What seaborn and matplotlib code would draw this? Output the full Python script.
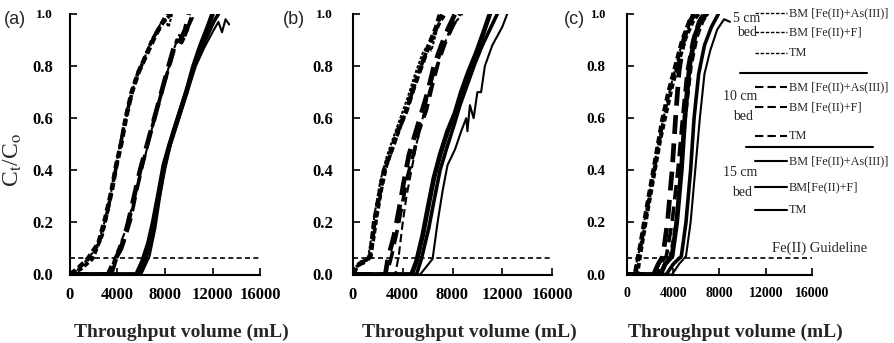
import numpy as np
import pandas as pd
import matplotlib
matplotlib.use("Agg")
import matplotlib.pyplot as plt
import seaborn as sns
from matplotlib.lines import Line2D

# ---------------- data (throughput volume mL, Ct/Co) ----------------
# panel (a)
a5_as_x = [0, 600, 1500, 2400, 3000, 3500, 3900, 4300, 4700, 5200, 5800, 6500, 7200, 8200]
a5_as_y = [0, 0.02, 0.06, 0.12, 0.22, 0.32, 0.42, 0.50, 0.60, 0.70, 0.78, 0.85, 0.92, 1.0]
a5_f_x = [0, 900, 1900, 2700, 3200, 3700, 4100, 4500, 5000, 5600, 6200, 6900, 7700, 8500]
a5_f_y = [0, 0.02, 0.06, 0.15, 0.25, 0.37, 0.46, 0.56, 0.66, 0.76, 0.82, 0.90, 0.96, 1.0]
a5_tm_x = [0, 400, 1300, 2200, 2900, 3400, 3800, 4300, 4800, 5400, 6000, 6700, 7600, 8000, 8300, 8600]
a5_tm_y = [0, 0.01, 0.05, 0.10, 0.20, 0.30, 0.40, 0.52, 0.62, 0.73, 0.80, 0.88, 0.96, 0.98, 0.95, 1.0]
a10_as_x = [0, 3200, 3700, 4300, 4900, 5400, 5900, 6500, 7100, 7700, 8300, 8800, 9300, 9700, 10000]
a10_as_y = [0, 0, 0.05, 0.10, 0.20, 0.30, 0.40, 0.50, 0.60, 0.70, 0.80, 0.88, 0.90, 0.94, 1.0]
a10_f_x = [0, 3500, 3900, 4500, 5100, 5600, 6100, 6700, 7300, 7900, 8500, 9000, 9400, 9800, 10300]
a10_f_y = [0, 0, 0.06, 0.12, 0.21, 0.32, 0.42, 0.53, 0.63, 0.73, 0.82, 0.90, 0.89, 0.93, 1.0]
a10_tm_x = [0, 3300, 3800, 4600, 5300, 5800, 6300, 6900, 7500, 8100, 8700, 9200, 9600, 10100, 10500]
a10_tm_y = [0, 0, 0.07, 0.16, 0.27, 0.37, 0.45, 0.56, 0.66, 0.76, 0.86, 0.92, 0.90, 0.96, 1.0]
a15_as_x = [0, 5600, 6100, 6600, 7000, 7500, 7900, 8400, 9100, 9800, 10400, 11000, 11600, 12000]
a15_as_y = [0, 0, 0.05, 0.12, 0.20, 0.32, 0.42, 0.50, 0.60, 0.70, 0.80, 0.88, 0.95, 1.0]
a15_f_x = [0, 5800, 6400, 6900, 7300, 7700, 8100, 8700, 9400, 10100, 10700, 11400, 12100, 12500]
a15_f_y = [0, 0, 0.06, 0.15, 0.25, 0.35, 0.45, 0.55, 0.65, 0.75, 0.83, 0.90, 0.97, 1.0]
a15_tm_x = [0, 6000, 6700, 7200, 7600, 8000, 8500, 9200, 9900, 10600, 11300, 12000, 12500, 12800, 13100, 13400]
a15_tm_y = [0, 0, 0.07, 0.18, 0.30, 0.40, 0.50, 0.60, 0.70, 0.80, 0.87, 0.93, 0.97, 0.93, 0.98, 0.96]

# panel (b)
b5_as_x = [0, 200, 500, 1000, 1400, 1700, 2100, 2500, 3100, 3600, 4300, 4900, 5500, 6100, 6700, 7000]
b5_as_y = [0, 0.02, 0.04, 0.05, 0.07, 0.20, 0.30, 0.40, 0.48, 0.55, 0.63, 0.72, 0.80, 0.88, 0.95, 1.0]
b5_f_x = [0, 300, 800, 1300, 1600, 1900, 2300, 2700, 3300, 3900, 4500, 5100, 5700, 6300, 7000, 7400]
b5_f_y = [0, 0.03, 0.05, 0.06, 0.12, 0.22, 0.33, 0.42, 0.50, 0.58, 0.66, 0.75, 0.83, 0.90, 0.97, 1.0]
b5_tm_x = [0, 150, 600, 1200, 1500, 1800, 2200, 2700, 3200, 3800, 4400, 5000, 5600, 6000, 6300, 6700, 7100]
b5_tm_y = [0, 0.01, 0.05, 0.06, 0.15, 0.25, 0.36, 0.45, 0.52, 0.60, 0.68, 0.77, 0.85, 0.88, 0.86, 0.93, 1.0]
b10_as_x = [0, 2600, 2800, 3300, 3700, 4100, 4500, 5000, 5500, 6000, 6500, 7100, 7700, 8200]
b10_as_y = [0, 0, 0.06, 0.15, 0.25, 0.36, 0.46, 0.54, 0.62, 0.70, 0.80, 0.88, 0.95, 1.0]
b10_f_x = [0, 2700, 3100, 3600, 4000, 4400, 4800, 5300, 5900, 6400, 6900, 7500, 8100, 8600]
b10_f_y = [0, 0, 0.07, 0.18, 0.28, 0.38, 0.45, 0.55, 0.63, 0.73, 0.82, 0.90, 0.96, 1.0]
b10_tm_x = [0, 3400, 3700, 4000, 4300, 4700, 5100, 5600, 6100, 6700, 7300, 7900, 8800]
b10_tm_y = [0, 0, 0.08, 0.20, 0.30, 0.40, 0.50, 0.60, 0.70, 0.80, 0.88, 0.95, 1.0]
b15_as_x = [0, 4700, 5100, 5600, 6000, 6500, 7000, 7600, 8200, 8700, 9300, 9900, 10500, 11000]
b15_as_y = [0, 0, 0.05, 0.15, 0.25, 0.37, 0.46, 0.55, 0.62, 0.70, 0.78, 0.85, 0.93, 1.0]
b15_f_x = [0, 5100, 5500, 6100, 6500, 7000, 7500, 8100, 8600, 9200, 9800, 10400, 11100, 11600]
b15_f_y = [0, 0, 0.06, 0.18, 0.28, 0.40, 0.48, 0.57, 0.65, 0.73, 0.81, 0.88, 0.95, 1.0]
b15_tm_x = [0, 5400, 6400, 6800, 7200, 7600, 8200, 8700, 9100, 9200, 9400, 9700, 10000, 10300, 10600, 11200, 12000, 12400]
b15_tm_y = [0, 0, 0.06, 0.20, 0.32, 0.42, 0.48, 0.55, 0.60, 0.55, 0.65, 0.60, 0.70, 0.70, 0.80, 0.88, 0.95, 1.0]

# panel (c)
c5_as_x = [0, 700, 900, 1200, 1500, 1900, 2300, 2700, 3100, 3600, 4200, 4800, 5400, 5800]
c5_as_y = [0, 0, 0.05, 0.12, 0.20, 0.30, 0.40, 0.50, 0.60, 0.70, 0.80, 0.90, 0.97, 1.0]
c5_f_x = [0, 900, 1100, 1400, 1700, 2100, 2500, 2900, 3400, 3900, 4500, 5100, 5700, 6200]
c5_f_y = [0, 0, 0.06, 0.14, 0.22, 0.32, 0.42, 0.52, 0.62, 0.72, 0.82, 0.91, 0.97, 1.0]
c5_tm_x = [0, 600, 800, 1100, 1400, 1800, 2200, 2600, 3000, 3500, 4100, 4700, 5300, 5600]
c5_tm_y = [0, 0, 0.04, 0.10, 0.18, 0.28, 0.38, 0.48, 0.57, 0.67, 0.78, 0.88, 0.95, 1.0]
c10_as_x = [0, 2300, 2700, 3100, 3500, 3900, 4200, 4500, 4900, 5400, 5900]
c10_as_y = [0, 0, 0.04, 0.07, 0.20, 0.40, 0.60, 0.78, 0.90, 0.97, 1.0]
c10_f_x = [0, 2600, 3000, 3400, 3900, 4400, 4800, 5200, 5700, 6200, 6600]
c10_f_y = [0, 0, 0.05, 0.07, 0.20, 0.40, 0.60, 0.78, 0.90, 0.97, 1.0]
c10_tm_x = [0, 2800, 3300, 3700, 4200, 4700, 5100, 5600, 6100, 6600, 7000]
c10_tm_y = [0, 0, 0.05, 0.07, 0.20, 0.40, 0.60, 0.80, 0.91, 0.97, 1.0]
c15_as_x = [0, 2900, 3300, 3900, 4300, 4700, 5000, 5400, 5900, 6400, 6900]
c15_as_y = [0, 0, 0.04, 0.07, 0.20, 0.40, 0.60, 0.80, 0.92, 0.98, 1.0]
c15_f_x = [0, 3400, 4000, 4700, 5100, 5500, 5800, 6200, 6700, 7300, 7900]
c15_f_y = [0, 0, 0.04, 0.07, 0.20, 0.40, 0.60, 0.77, 0.88, 0.95, 1.0]
c15_tm_x = [0, 3900, 4500, 5100, 5500, 5900, 6300, 6700, 7200, 7800, 8400, 8900]
c15_tm_y = [0, 0, 0.04, 0.07, 0.20, 0.40, 0.60, 0.77, 0.86, 0.94, 0.98, 0.97]

guideline_value = 0.065
x_ticks = [0, 4000, 8000, 12000, 16000]
y_ticks = [0.0, 0.2, 0.4, 0.6, 0.8, 1.0]
panel_tags = ["(a)", "(b)", "(c)"]
media_labels = ["BM [Fe(II)+As(III)]", "BM [Fe(II)+F]", "TM"]
media_labels_15 = ["BM [Fe(II)+As(III)]", "BM[Fe(II)+F]", "TM"]
bed_labels = ["5 cm", "10 cm", "15 cm"]

# ---------------- structure built from the arrays ----------------
curves = {
    "a": [("5", "as", a5_as_x, a5_as_y), ("5", "f", a5_f_x, a5_f_y), ("5", "tm", a5_tm_x, a5_tm_y),
          ("10", "as", a10_as_x, a10_as_y), ("10", "f", a10_f_x, a10_f_y), ("10", "tm", a10_tm_x, a10_tm_y),
          ("15", "as", a15_as_x, a15_as_y), ("15", "f", a15_f_x, a15_f_y), ("15", "tm", a15_tm_x, a15_tm_y)],
    "b": [("5", "as", b5_as_x, b5_as_y), ("5", "f", b5_f_x, b5_f_y), ("5", "tm", b5_tm_x, b5_tm_y),
          ("10", "as", b10_as_x, b10_as_y), ("10", "f", b10_f_x, b10_f_y), ("10", "tm", b10_tm_x, b10_tm_y),
          ("15", "as", b15_as_x, b15_as_y), ("15", "f", b15_f_x, b15_f_y), ("15", "tm", b15_tm_x, b15_tm_y)],
    "c": [("5", "as", c5_as_x, c5_as_y), ("5", "f", c5_f_x, c5_f_y), ("5", "tm", c5_tm_x, c5_tm_y),
          ("10", "as", c10_as_x, c10_as_y), ("10", "f", c10_f_x, c10_f_y), ("10", "tm", c10_tm_x, c10_tm_y),
          ("15", "as", c15_as_x, c15_as_y), ("15", "f", c15_f_x, c15_f_y), ("15", "tm", c15_tm_x, c15_tm_y)],
}
bed_style = {"5": (0, (1.5, 0.8)), "10": (0, (4, 2)), "15": "-"}
media_width = {"as": 3.4, "f": 2.6, "tm": 1.5}

# ---------------- figure ----------------
sns.set_style("ticks")
plt.rcParams["font.family"] = ["Liberation Serif", "DejaVu Serif"]
plt.rcParams["mathtext.fontset"] = "stix"

W, H = 895, 343
fig = plt.figure(figsize=(W / 100, H / 100), dpi=100)


def fx(px):
    return px / W


def fy(py):
    return 1 - py / H


top_px, bot_px = 14, 274.5
# key, left px, right px, x tick size, y tick size, y pad px
panels = [("a", 70, 260, 12, 12, 17), ("b", 353, 552, 12, 12, 20), ("c", 627, 812, 10, 11, 22)]
tag_x = [4, 283, 564]

for i, (key, l, r, xsize, ysize, ypad) in enumerate(panels):
    ax = fig.add_axes([fx(l), fy(bot_px), (r - l) / W, (bot_px - top_px) / H])
    for bed, med, xs, ys in curves[key]:
        df = pd.DataFrame({"V": xs, "C": ys})
        sns.lineplot(data=df, x="V", y="C", ax=ax, color="black", sort=False,
                     estimator=None, lw=media_width[med], linestyle=bed_style[bed])
    ax.axhline(guideline_value, color="black", lw=1.2, linestyle=(0, (3, 2)))
    ax.set_xlim(0, 16000)
    ax.set_ylim(0, 1.0)
    ax.set_xticks(x_ticks)
    ax.set_xticklabels([str(v) for v in x_ticks], fontweight="bold", fontsize=xsize)
    ax.set_yticks(y_ticks)
    ylabs = ax.set_yticklabels([f"{v:.1f}" for v in y_ticks], fontweight="bold", fontsize=ysize)
    ylabs[-1].set_fontsize(ysize * 0.8)
    ax.tick_params(axis="both", direction="in", length=5, width=1.2, colors="black")
    ax.tick_params(axis="x", pad=9)
    ax.tick_params(axis="y", pad=ypad * 0.72)
    sns.despine(ax=ax)
    for s in ("left", "bottom"):
        ax.spines[s].set_linewidth(1.5)
        ax.spines[s].set_color("black")
    ax.set_ylabel("")
    ax.set_xlabel("Throughput volume (mL)", fontweight="bold", fontsize=14)
    ax.xaxis.label.set_va("center")
    ax.xaxis.set_label_coords(0.585, -0.223)
    ax.patch.set_alpha(0)
    fig.text(fx(tag_x[i]), fy(19), panel_tags[i], family=["Liberation Sans", "DejaVu Sans"],
             fontsize=13, ha="left", va="center")

fig.text(fx(13), fy(160), r"C$_\mathrm{t}$/C$_\mathrm{o}$", rotation=90, ha="center",
         va="center", fontsize=17)

# ---------------- legend for panel (c) ----------------
leg_rows = [13, 32, 53, 87, 107, 136, 161, 187, 210]
leg_styles = [(0, (2.5, 1.2))] * 3 + [(0, (4, 2))] * 3 + ["-"] * 3
leg_widths = [1.0] * 3 + [1.5] * 3 + [1.5] * 3
leg_texts = media_labels + media_labels + media_labels_15
for yy, st, lw, txt in zip(leg_rows, leg_styles, leg_widths, leg_texts):
    fig.add_artist(Line2D([fx(755), fx(787)], [fy(yy), fy(yy)], transform=fig.transFigure,
                          color="black", lw=lw, linestyle=st))
    fig.text(fx(789), fy(yy), txt, fontsize=8.8, ha="left", va="center")

for y0, x0, x1 in [(73, 740, 867), (147, 746, 873)]:
    fig.add_artist(Line2D([fx(x0), fx(x1)], [fy(y0), fy(y0)], transform=fig.transFigure,
                          color="black", lw=1.5))

bed_pos = [((747, 19), (747, 32)), ((740, 97), (743, 117)), ((740, 173), (742, 192))]
for lab, ((cx, cy), (bx, by)) in zip(bed_labels, bed_pos):
    fig.text(fx(cx), fy(cy), lab, fontsize=10, ha="center", va="center")
    fig.text(fx(bx), fy(by), "bed", fontsize=10, ha="center", va="center")

fig.text(fx(820), fy(248), "Fe(II) Guideline", fontsize=10.5, ha="center", va="center")

fig.savefig("out.png", dpi=100)
